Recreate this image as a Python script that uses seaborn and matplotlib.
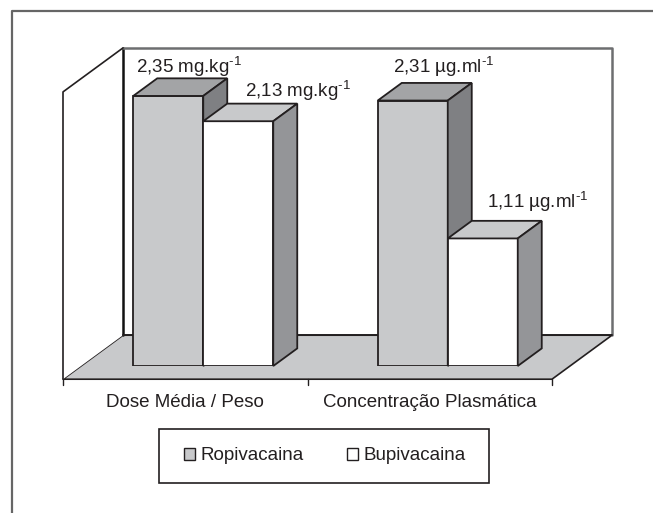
import pandas as pd
import matplotlib
matplotlib.use("Agg")
import matplotlib.pyplot as plt
import seaborn as sns
from matplotlib.patches import Polygon, Patch, Rectangle
from matplotlib.lines import Line2D

# data
categories = ["Dose Média / Peso", "Concentração Plasmática"]
series = ["Ropivacaina", "Bupivacaina"]
ropivacaina = [2.35, 2.31]
bupivacaina = [2.13, 1.11]
units = ["mg.kg", "µg.ml"]

# value label offsets (px) from each bar's front-left top corner, [series][category]
label_dx = [[3, 15], [42, 39]]
label_dy = [[23, 28], [24, 30]]

front = {"Ropivacaina": "#c8c9cb", "Bupivacaina": "#ffffff"}
top = {"Ropivacaina": "#a3a4a6", "Bupivacaina": "#c8c9cb"}
side = {"Ropivacaina": "#7f8083", "Bupivacaina": "#949598"}
edge = "#231f20"
floor_col = "#c8c9cb"
fs = 13.5

df = pd.DataFrame({
    "categoria": categories * 2,
    "grupo": [series[0]] * 2 + [series[1]] * 2,
    "valor": ropivacaina + bupivacaina,
})

sns.set_theme(style="white")
plt.rcParams["font.family"] = ["Liberation Sans", "DejaVu Sans"]
plt.rcParams["mathtext.fontset"] = "custom"
plt.rcParams["mathtext.rm"] = "Liberation Sans"

W, H = 653, 513
fig = plt.figure(figsize=(W / 100, H / 100), dpi=100)
# front plane of the bars, in pixels: x 81..570, y(0)=366, y(2.5)=78.7
plot_w, plot_h = 489, 287.3
ax = fig.add_axes([81 / W, (H - 366) / H, plot_w / W, plot_h / H])
ymax = 2.5

# depth of the 3d box: 60 px right, 44 px up (front of floor -> back wall)
DX = 60 * 2 / plot_w
DY = 44 * ymax / plot_h


def p(x, y, d):
    return (x + d * DX, y + d * DY)


sns.barplot(data=df, x="categoria", y="valor", hue="grupo", hue_order=series,
            palette=front, width=0.5726, edgecolor=edge, linewidth=1.3,
            saturation=1, legend=False, ax=ax)
ax.set_xlim(-0.5, 1.5)
ax.set_ylim(0, ymax)
ax.set_axis_off()

x0, x1 = -0.5, 1.5
# floor
ax.add_patch(Polygon([p(x0, 0, -0.3), p(x1, 0, -0.3), p(x1, 0, 0.7), p(x0, 0, 0.7)],
                     closed=True, facecolor=floor_col, edgecolor=edge, lw=1.2,
                     zorder=1, clip_on=False))
# back wall
ax.add_patch(Polygon([p(x0, 0, 0.7), p(x1, 0, 0.7), p(x1, ymax, 0.7), p(x0, ymax, 0.7)],
                     closed=True, facecolor="white", edgecolor="none", zorder=1.5, clip_on=False))
bx = [p(x0, 0, 0.7), p(x0, ymax, 0.7), p(x1, ymax, 0.7), p(x1, 0, 0.7)]
ax.plot([bx[0][0], bx[1][0]], [bx[0][1], bx[1][1]], color="#111111", lw=1.8, zorder=2, clip_on=False)
ax.plot([bx[1][0], bx[2][0], bx[3][0]], [bx[1][1], bx[2][1], bx[3][1]],
        color="#6d6e70", lw=1.8, zorder=2, clip_on=False)
ax.plot([bx[0][0], bx[3][0]], [bx[0][1], bx[3][1]], color=edge, lw=1.4, zorder=2, clip_on=False)
# left wall
lw_pts = [p(x0, 0, -0.3), p(x0, ymax, -0.3), p(x0, ymax, 0.7), p(x0, 0, 0.7)]
ax.add_patch(Polygon(lw_pts, closed=True, facecolor="white", edgecolor="none",
                     zorder=1.5, clip_on=False))
ax.plot([lw_pts[0][0], lw_pts[1][0], lw_pts[2][0]], [lw_pts[0][1], lw_pts[1][1], lw_pts[2][1]],
        color=edge, lw=1.2, zorder=2, clip_on=False)

# ticks at category boundaries along the front edge of the floor
tick_len = 6 * ymax / plot_h
for b in [x0, 0.5, x1]:
    bxp, byp = p(b, 0, -0.3)
    ax.plot([bxp, bxp], [byp, byp - tick_len], color=edge, lw=1.0, zorder=2, clip_on=False)

# 3d faces for every bar, built from seaborn's bars
for si, cont in enumerate(ax.containers):
    name = series[si]
    for ci, bar in enumerate(cont):
        bar.set_zorder(3 + si)
        bx0 = bar.get_x()
        bw = bar.get_width()
        h = bar.get_height()
        ax.add_patch(Polygon([p(bx0, h, 0), p(bx0 + bw, h, 0), p(bx0 + bw, h, 0.4), p(bx0, h, 0.4)],
                             closed=True, facecolor=top[name], edgecolor=edge, lw=1.3,
                             zorder=3 + si, clip_on=False))
        ax.add_patch(Polygon([p(bx0 + bw, 0, 0), p(bx0 + bw, 0, 0.4), p(bx0 + bw, h, 0.4), p(bx0 + bw, h, 0)],
                             closed=True, facecolor=side[name], edgecolor=edge, lw=1.3,
                             zorder=3 + si, clip_on=False))
        txt = f"{h:.2f}".replace(".", ",") + " " + units[ci] + "$^{\\mathregular{\u20101}}$"
        ax.annotate(txt, xy=(bx0, h), xytext=(label_dx[si][ci], label_dy[si][ci]),
                    textcoords="offset pixels", ha="left", va="baseline",
                    fontsize=fs, color="#231f20", zorder=6, annotation_clip=False)

# category labels under the floor
for ci, cat in enumerate(categories):
    ax.annotate(cat, xy=p(ci, 0, -0.3), xytext=(0, -23), textcoords="offset pixels",
                ha="center", va="center", fontsize=fs, color="#231f20", annotation_clip=False)

# legend with its own box
fig.add_artist(Rectangle((159 / W, (H - 483) / H), 330 / W, 54 / H, transform=fig.transFigure,
                         facecolor="white", edgecolor=edge, lw=1.2))
handles = [Patch(facecolor=front[s], edgecolor=edge, lw=1.0, label=s) for s in series]
leg = fig.legend(handles=handles, loc="center", bbox_to_anchor=(325 / W, (H - 456) / H),
                 ncol=2, frameon=False, handlelength=0.6, handleheight=0.6,
                 handletextpad=0.3, columnspacing=2.3, fontsize=fs)
for t in leg.get_texts():
    t.set_color("#231f20")

# outer frame (left and top only are visible)
fig.add_artist(Line2D([12 / W, 12 / W, 1.0], [0.0, (H - 11) / H, (H - 11) / H],
                      transform=fig.transFigure, color="#666666", lw=1.6))

fig.savefig("out.png", dpi=100)
